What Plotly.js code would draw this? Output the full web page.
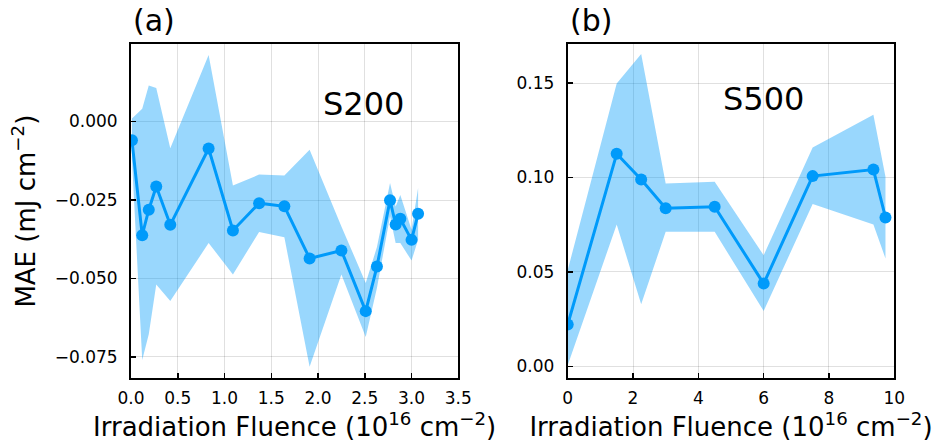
<!DOCTYPE html>
<html>
<head>
<meta charset="utf-8">
<script src="https://cdn.plot.ly/plotly-3.0.1.min.js"></script>
<style>html,body{margin:0;padding:0;background:#fff}#chart{width:938px;height:446px}</style>
</head>
<body>
<div id="chart"></div>
<script>
// Panel (a): S200
const xA = [0.01, 0.12, 0.19, 0.27, 0.42, 0.83, 1.09, 1.37, 1.64, 1.91, 2.25, 2.51, 2.63, 2.77, 2.83, 2.88, 3.00, 3.07];
const yA = [-0.0060, -0.0362, -0.0281, -0.0207, -0.0329, -0.0086, -0.0347, -0.0260, -0.0270, -0.0436, -0.0411, -0.0604, -0.0462, -0.0251, -0.0328, -0.0310, -0.0377, -0.0294];
const upperA = [0.0010, 0.0041, 0.0115, 0.0107, -0.0085, 0.0212, -0.0204, -0.0169, -0.0172, -0.0090, -0.0334, -0.0514, -0.0400, -0.0196, -0.0271, -0.0234, -0.0345, -0.0212];
const lowerA = [-0.0120, -0.0760, -0.0678, -0.0519, -0.0572, -0.0387, -0.0487, -0.0352, -0.0369, -0.0781, -0.0487, -0.0686, -0.0530, -0.0302, -0.0387, -0.0387, -0.0443, -0.0377];

// Panel (b): S500
const xB = [0, 1.5, 2.25, 3.0, 4.5, 6.0, 7.5, 9.36, 9.73];
const yB = [0.0221, 0.1125, 0.0989, 0.0837, 0.0845, 0.0438, 0.1007, 0.1042, 0.0788];
const upperB = [0.0509, 0.1498, 0.1654, 0.0968, 0.0977, 0.0588, 0.1159, 0.1332, 0.1004];
const lowerB = [0.0005, 0.0751, 0.0329, 0.0712, 0.0712, 0.0293, 0.0859, 0.0751, 0.0571];

const ticksA_x = [0, 0.5, 1.0, 1.5, 2.0, 2.5, 3.0, 3.5];
const ticksA_y = [-0.075, -0.05, -0.025, 0];
const ticksB_x = [0, 2, 4, 6, 8, 10];
const ticksB_y = [0, 0.05, 0.10, 0.15];

const labelA = "S200", labelB = "S500";
const panelA = "(a)", panelB = "(b)";
const xTitle = "Irradiation Fluence (10<sup>16</sup> cm<sup>−2</sup>)";
const yTitle = "MAE (mJ cm<sup>−2</sup>)";

const LINE = "#009AFA";
const FILL = "rgba(0,154,250,0.4)";
const FONT = "DejaVu Sans, sans-serif";

function band(x, up, lo, xa, ya) {
  return {
    x: x.concat(x.slice().reverse()),
    y: up.concat(lo.slice().reverse()),
    xaxis: xa, yaxis: ya,
    type: "scatter", mode: "lines",
    fill: "toself", fillcolor: FILL,
    line: {width: 0, color: FILL},
    hoverinfo: "skip", showlegend: false
  };
}
function series(x, y, xa, ya) {
  return {
    x: x, y: y, xaxis: xa, yaxis: ya,
    type: "scatter", mode: "lines+markers",
    line: {color: LINE, width: 3},
    marker: {color: LINE, size: 12},
    showlegend: false
  };
}

const data = [
  band(xA, upperA, lowerA, "x", "y"),
  series(xA, yA, "x", "y"),
  band(xB, upperB, lowerB, "x2", "y2"),
  series(xB, yB, "x2", "y2")
];

const axBase = {
  showline: true, mirror: true, linecolor: "#000", linewidth: 2,
  ticks: "inside", ticklen: 5, tickwidth: 1.5, tickcolor: "#000",
  showgrid: true, gridcolor: "rgba(0,0,0,0.12)", gridwidth: 1,
  zeroline: false, automargin: false,
  tickfont: {family: FONT, size: 17, color: "#000"}
};

const yTop = 1 - 44.3/446, yBot = 1 - 378/446;

const layout = {
  width: 938, height: 446,
  margin: {l: 0, r: 0, t: 0, b: 0},
  paper_bgcolor: "#fff", plot_bgcolor: "#fff",
  font: {family: FONT, color: "#000"},
  xaxis: Object.assign({}, axBase, {
    domain: [131/938, 458.3/938], range: [0, 3.5],
    tickvals: ticksA_x, tickformat: ".1f", anchor: "y",
    ticklabelstandoff: 4,
    title: {text: xTitle, font: {family: FONT, size: 26}, standoff: 10}
  }),
  yaxis: Object.assign({}, axBase, {
    domain: [yBot, yTop], range: [-0.0817, 0.0246],
    tickvals: ticksA_y, tickformat: ".3f", anchor: "x",
    ticklabelstandoff: 8,
    title: {text: yTitle, font: {family: FONT, size: 26}, standoff: 12}
  }),
  xaxis2: Object.assign({}, axBase, {
    domain: [567.7/938, 894.3/938], range: [0, 10],
    tickvals: ticksB_x, tickformat: "d", anchor: "y2",
    ticklabelstandoff: 4,
    title: {text: xTitle, font: {family: FONT, size: 26}, standoff: 10}
  }),
  yaxis2: Object.assign({}, axBase, {
    domain: [yBot, yTop], range: [-0.0062, 0.1705],
    tickvals: ticksB_y, tickformat: ".2f", anchor: "x2",
    ticklabelstandoff: 8
  }),
  annotations: [
    {text: panelA, xref: "x domain", yref: "paper", x: 0, y: 1 - 20/446,
     xanchor: "left", yanchor: "middle", showarrow: false,
     font: {family: FONT, size: 30, color: "#000"}},
    {text: panelB, xref: "x2 domain", yref: "paper", x: 0, y: 1 - 20/446,
     xanchor: "left", yanchor: "middle", showarrow: false,
     font: {family: FONT, size: 30, color: "#000"}},
    {text: labelA, xref: "x", yref: "y", x: 2.49, y: 0.0055,
     xanchor: "center", yanchor: "middle", showarrow: false,
     font: {family: FONT, size: 32, color: "#000"}},
    {text: labelB, xref: "x2", yref: "y2", x: 5.98, y: 0.1414,
     xanchor: "center", yanchor: "middle", showarrow: false,
     font: {family: FONT, size: 32, color: "#000"}}
  ]
};

Plotly.newPlot("chart", data, layout, {displayModeBar: false, staticPlot: true});
</script>
</body>
</html>
